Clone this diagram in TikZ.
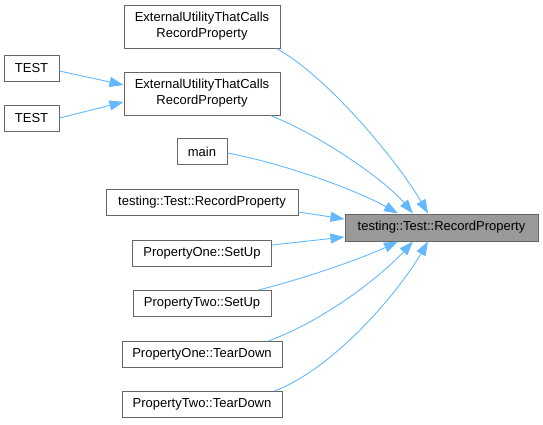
\documentclass[tikz,border=0pt]{standalone}
\usepackage{fontspec}
\setmainfont{Liberation Sans}
\usetikzlibrary{arrows.meta}
\definecolor{edgec}{HTML}{63B8FF}
\definecolor{bordc}{HTML}{666666}
\definecolor{targc}{HTML}{999999}
\begin{document}
\begin{tikzpicture}[x=1pt,y=-1pt,
  box/.style={draw=bordc,fill=white,line width=1pt,inner sep=0pt,minimum height=26pt,align=center,font=\fontsize{13}{16}\selectfont},
  tbox/.style={box,fill=targc},
  call/.style={draw=edgec,line width=0.9pt,-{Triangle[length=14pt,width=10pt]}}]
\useasboundingbox (0,0) rectangle (543,424);
\node[box,minimum width=156pt,minimum height=43pt] (ext1) at (202,26.5) {ExternalUtilityThatCalls\\RecordProperty};
\node[box,minimum width=156pt,minimum height=43pt] (ext2) at (202,93.5) {ExternalUtilityThatCalls\\RecordProperty};
\node[box,minimum width=55pt] (test1) at (31.5,68) {TEST};
\node[box,minimum width=55pt] (test2) at (31.5,118.5) {TEST};
\node[box,minimum width=50pt] (main) at (202,151.5) {main};
\node[box,minimum width=192pt] (trp) at (202,202.5) {testing::Test::RecordProperty};
\node[box,minimum width=139pt] (p1s) at (202,253) {PropertyOne::SetUp};
\node[box,minimum width=138pt] (p2s) at (202,303.5) {PropertyTwo::SetUp};
\node[box,minimum width=160pt] (p1t) at (202,354.5) {PropertyOne::TearDown};
\node[box,minimum width=160pt] (p2t) at (202,404.5) {PropertyTwo::TearDown};
\node[tbox,minimum width=193pt,minimum height=27pt] (tgt) at (441.5,227.5) {testing::Test::RecordProperty};
% edges
\draw[call] ([xshift=-4pt]ext1.south east) .. controls (330,78) and (400,165) .. ([xshift=-13.5pt]tgt.north);
\draw[call] ([xshift=-10pt]ext2.south east) .. controls (320,135) and (385,180) .. ([xshift=-28.5pt]tgt.north);
\draw[call] ([yshift=-1.5pt]main.east) .. controls (290,165) and (360,192) .. ([xshift=-43.5pt]tgt.north);
\draw[call] ([yshift=-9.5pt]trp.east) -- ([yshift=8.5pt]tgt.west);
\draw[call] ([yshift=8pt]p1s.east) -- ([yshift=-9.5pt]tgt.west);
\draw[call] ([xshift=-13pt]p2s.north east) .. controls (310,277) and (365,257) .. ([xshift=-43.5pt]tgt.south);
\draw[call] ([xshift=-14pt]p1t.north east) .. controls (330,318) and (385,272) .. ([xshift=-28.5pt]tgt.south);
\draw[call] ([xshift=-8pt]p2t.north east) .. controls (335,368) and (400,290) .. ([xshift=-13.5pt]tgt.south);
\draw[call] ([yshift=-3pt]test1.east) -- ([yshift=8.5pt]ext2.west);
\draw[call] ([yshift=0.5pt]test2.east) -- ([yshift=-8.5pt]ext2.west);
\end{tikzpicture}
\end{document}
